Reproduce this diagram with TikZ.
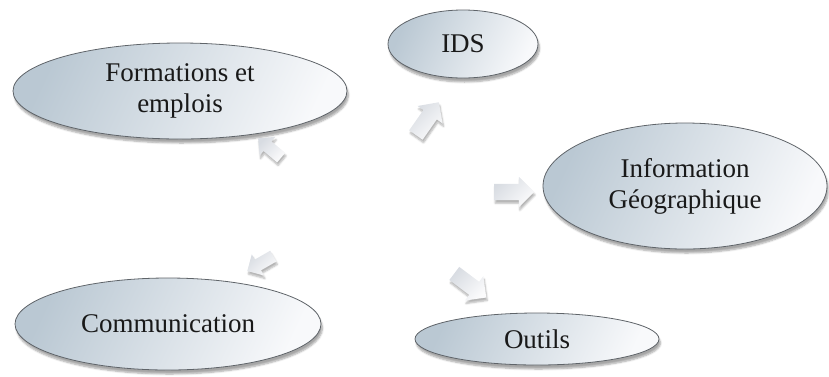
\documentclass[tikz,border=0pt]{standalone}
\usepackage{fontspec}
\setmainfont{Liberation Serif}
\usetikzlibrary{shapes.geometric,shapes.arrows,shadows.blur}
\definecolor{elldark}{RGB}{186,200,211}
\definecolor{elllight}{RGB}{248,249,251}
\definecolor{ellline}{RGB}{95,100,105}
\definecolor{arrdark}{RGB}{216,220,226}
\definecolor{arrlight}{RGB}{251,251,252}
\tikzset{
  bubble/.style={ellipse, draw=ellline, line width=0.8pt,
    left color=elldark, right color=elllight, shading angle=65,
    inner sep=0pt, align=center, text=black!90,
    font=\fontsize{27}{31}\selectfont,
    blur shadow={shadow xshift=1.5pt, shadow yshift=-4pt, shadow blur steps=6, shadow opacity=35}},
  bigarrow/.style={single arrow, draw=none, inner sep=8pt,
    single arrow head extend=7pt, minimum height=40pt,
    left color=arrdark, right color=arrlight, shading angle=45,
    blur shadow={shadow xshift=1pt, shadow yshift=-3pt, shadow blur steps=5, shadow opacity=30}},
  smallarrow/.style={bigarrow, inner sep=6pt, single arrow head extend=6pt, minimum height=30pt}
}
\begin{document}
\begin{tikzpicture}[x=1pt,y=-1pt]
\useasboundingbox (0,0) rectangle (829,376);
\node[bubble, minimum width=334pt, minimum height=96pt] (form) at (180,91) {Formations et\\emplois};
\node[bubble, minimum width=150pt, minimum height=68pt] (ids) at (463,44) {IDS};
\node[bubble, minimum width=284pt, minimum height=126pt] (info) at (685,186) {Information\\G\'eographique};
\node[bubble, minimum width=244pt, minimum height=52pt] (outils) at (537,339) {Outils};
\node[bubble, minimum width=306pt, minimum height=92pt] (comm) at (168,324) {Communication};
\node[smallarrow, rotate=140] (a1) at (272,150) {};
\node[bigarrow, rotate=55] (a2) at (425,122) {};
\node[bigarrow, rotate=0] (a3) at (510,192) {};
\node[smallarrow, rotate=210] (a4) at (263,262) {};
\node[bigarrow, rotate=-37] (a5) at (467,283) {};
\end{tikzpicture}
\end{document}
